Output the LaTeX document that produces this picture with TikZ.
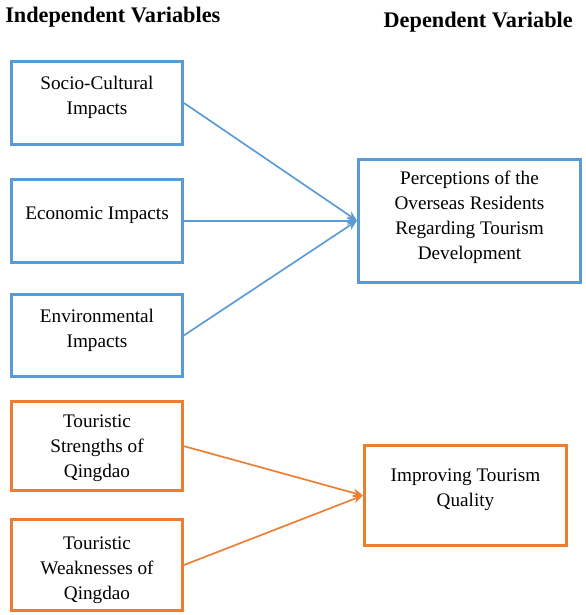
\documentclass[tikz,border=0pt]{standalone}
\usepackage{fontspec}
\setmainfont{Liberation Serif}
\usepackage{tikz}
\usetikzlibrary{positioning,arrows.meta}
\definecolor{ivblue}{HTML}{5B9BD5}
\definecolor{ivorange}{HTML}{ED7D31}

\begin{document}
\begin{tikzpicture}[x=0.75pt, y=-0.75pt,
    >={Stealth[length=7.5pt,width=6.5pt]},
    varbox/.style={draw, line width=2.25pt, align=center,
        font=\fontsize{14.4pt}{18.75pt}\selectfont},
    bluebox/.style={varbox, draw=ivblue,
        minimum width=128.25pt, minimum height=62pt},
    orangebox/.style={varbox, draw=ivorange,
        minimum width=128.25pt, minimum height=66.75pt},
    head/.style={inner sep=0pt, font=\fontsize{16.7pt}{20pt}\selectfont\bfseries}
]
    \useasboundingbox (0,0) rectangle (586,615);

    % Headings
    \node [head, anchor=base west] (IndepHead) at (5,22) {Independent Variables};
    \node [head, anchor=base east] (DepHead) at (573,27) {Dependent Variable};

    % Impacts
    \node [bluebox, text depth=12.1pt] (SocioCultural) at (97,103) {Socio-Cultural\\Impacts};
    \node [bluebox,
        text depth=10.6pt,
        below=24pt of SocioCultural
    ]  (Economic) {Economic Impacts};
    \node [bluebox,
        text depth=10.6pt,
        below=21.75pt of Economic
    ]  (Environmental) {Environmental\\Impacts};

    % Perceptions
    \node [bluebox,
        minimum width=166.5pt,
        minimum height=92.25pt,
        text depth=7.6pt,
        right=129.75pt of Economic
    ]  (Perceptions) {Perceptions of the\\Overseas Residents\\Regarding Tourism\\Development};

    % Strengths and weaknesses
    \node [orangebox,
        text depth=-2.1pt,
        below=16.5pt of Environmental
    ]  (Strengths) {Touristic\\Strengths of\\Qingdao};
    \node [orangebox,
        minimum height=68pt,
        text height=54.5pt,
        text depth=3.1pt,
        below=19.5pt of Strengths
    ]  (Weaknesses) {Touristic\\Weaknesses of\\Qingdao};

    % Quality
    \node [orangebox,
        minimum width=151.5pt,
        minimum height=75pt,
        text depth=12.1pt
    ]  (Quality) at (465.5,495.5) {Improving Tourism\\Quality};

    \draw[->, ivblue, line width=1.25pt] (SocioCultural.east) -- (Perceptions.west);
    \draw[->, ivblue, line width=1.25pt] (Economic.east) -- (Perceptions.west);
    \draw[->, ivblue, line width=1.25pt] (Environmental.east) -- (Perceptions.west);
    \draw[->, ivorange, line width=1.25pt] (Strengths.east) -- (Quality.west);
    \draw[->, ivorange, line width=1.25pt] (Weaknesses.east) -- (Quality.west);

\end{tikzpicture}
\end{document}
